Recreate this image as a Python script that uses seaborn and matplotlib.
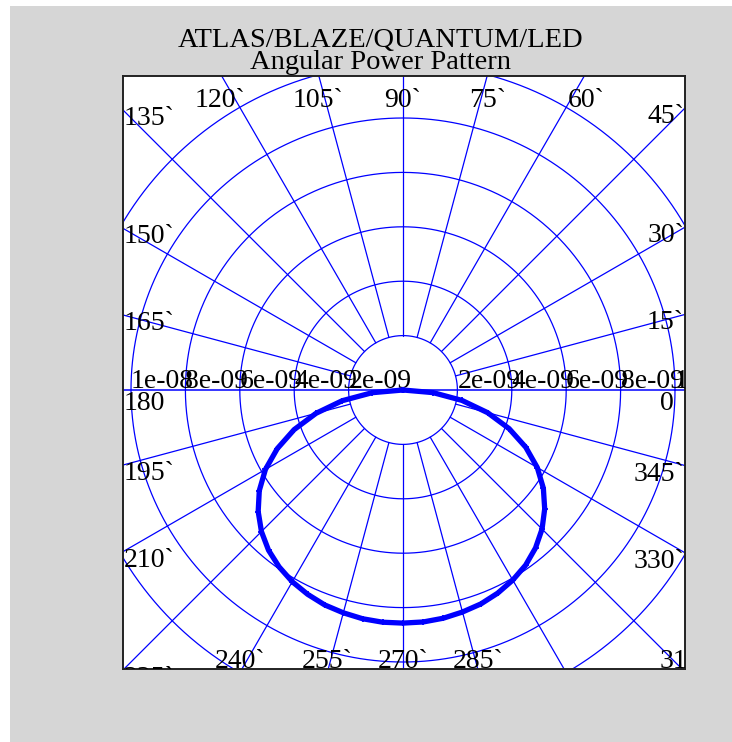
import numpy as np
import pandas as pd
import matplotlib
matplotlib.use("Agg")
import matplotlib.pyplot as plt
from matplotlib.patches import Rectangle
import seaborn as sns

# ---- data -------------------------------------------------------------
angle_deg = [180, 185, 190, 195, 200, 205, 210, 215, 220, 225, 230, 235,
             240, 245, 250, 255, 260, 265, 270, 275, 280, 285, 290, 295,
             300, 305, 310, 315, 320, 325, 330, 335, 340, 345, 350, 355, 360]
power_w = [0.0, 1.14e-09, 2.27e-09, 3.31e-09, 4.26e-09, 5.10e-09, 5.84e-09,
           6.45e-09, 6.95e-09, 7.36e-09, 7.69e-09, 7.94e-09, 8.14e-09,
           8.29e-09, 8.41e-09, 8.48e-09, 8.54e-09, 8.57e-09, 8.57e-09,
           8.56e-09, 8.52e-09, 8.45e-09, 8.37e-09, 8.24e-09, 8.07e-09,
           7.86e-09, 7.58e-09, 7.23e-09, 6.80e-09, 6.30e-09, 5.70e-09,
           4.98e-09, 4.15e-09, 3.22e-09, 2.20e-09, 1.11e-09, 0.0]

ring_values = [2e-09, 4e-09, 6e-09, 8e-09, 1e-08, 1.2e-08]
ring_labels = ["2e-09", "4e-09", "6e-09", "8e-09", "1e-08"]
spoke_angles = list(range(0, 360, 15))
# angle labels printed around the frame (300 is not printed)
label_angles = [a for a in spoke_angles if a != 300]
title_lines = ["ATLAS/BLAZE/QUANTUM/LED", "Angular Power Pattern"]

# ---- style ------------------------------------------------------------
sns.set_style("white")
plt.rcParams["font.family"] = ["Liberation Serif", "DejaVu Serif"]
plt.rcParams["text.color"] = "black"
BLUE = "#0000ff"
FS = 20

W, H = 732, 742
fig = plt.figure(figsize=(W / 100, H / 100), dpi=100)
fig.patch.set_facecolor("white")
fig.add_artist(Rectangle((10 / W, 0), (W - 10) / W, (H - 6) / H,
                         transform=fig.transFigure, facecolor="#d6d6d6",
                         edgecolor="none", zorder=0))

# plot box in pixels
bx0, bx1, by_top, by_bot = 123, 685, 76, 669
cx, cy = 403, 390
PX = 1e-09 / 27.2          # data units per pixel

ax = fig.add_axes([bx0 / W, 1 - by_bot / H, (bx1 - bx0) / W, (by_bot - by_top) / H])
ax.set_facecolor("white")
xmin, xmax = -(cx - bx0) * PX, (bx1 - cx) * PX
ymin, ymax = -(by_bot - cy) * PX, (cy - by_top) * PX
ax.set_xlim(xmin, xmax)
ax.set_ylim(ymin, ymax)
ax.set_xticks([])
ax.set_yticks([])
for s in ax.spines.values():
    s.set_visible(True)
    s.set_color("#222222")
    s.set_linewidth(1.4)

# ---- polar grid -------------------------------------------------------
t = np.linspace(0, 2 * np.pi, 721)
for r in ring_values:
    ax.plot(r * np.cos(t), r * np.sin(t), color=BLUE, lw=0.9, zorder=2)

r_in, r_out = ring_values[0], 3e-08
for a in spoke_angles:
    th = np.deg2rad(a)
    if a in (0, 180):
        continue
    ax.plot([r_in * np.cos(th), r_out * np.cos(th)],
            [r_in * np.sin(th), r_out * np.sin(th)], color=BLUE, lw=0.9, zorder=2)
ax.axhline(0, color=BLUE, lw=1.1, zorder=2)

# ring value labels along the horizontal axis
for r, lab in zip(ring_values, ring_labels):
    for sgn in (1, -1):
        ax.text(sgn * r, 2 * PX, lab, ha="left", va="baseline", fontsize=FS,
                color="black", clip_on=True, zorder=4)

# angle labels where each spoke leaves the box
for a in label_angles:
    th = np.deg2rad(a)
    c, s = np.cos(th), np.sin(th)
    cand = []
    if c > 1e-9:
        cand.append((xmax / c, "right"))
    if c < -1e-9:
        cand.append((xmin / c, "left"))
    if s > 1e-9:
        cand.append((1.01 * ymax / s, "top"))
    if s < -1e-9:
        cand.append((1.01 * ymin / s, "bottom"))
    tt, edge = min(cand)
    hx, hy = tt * c, tt * s
    if a == 0:
        ax.text(xmax - 11 * PX, -1 * PX, "0", ha="right", va="top",
                fontsize=FS, clip_on=True, zorder=4)
        continue
    if a == 180:
        ax.text(xmin + 1 * PX, -1 * PX, "180", ha="left", va="top",
                fontsize=FS, clip_on=True, zorder=4)
        continue
    lab = f"{a}`"
    if edge == "right":
        ax.text(xmax - 1 * PX, hy + 4 * PX, lab, ha="right", va="top",
                fontsize=FS, clip_on=True, zorder=4)
    elif edge == "left":
        ax.text(xmin + 1 * PX, hy + 4 * PX, lab, ha="left", va="top",
                fontsize=FS, clip_on=True, zorder=4)
    elif edge == "top":
        ax.text(hx, ymax - 12 * PX, lab, ha="center", va="top",
                fontsize=FS, clip_on=True, zorder=4)
    else:
        ax.text(hx, ymin + 1 * PX, lab, ha="center", va="baseline",
                fontsize=FS, clip_on=True, zorder=4)

# ---- radiation pattern -----------------------------------------------
df = pd.DataFrame({"angle": angle_deg, "power": power_w})
rad = np.deg2rad(df["angle"].to_numpy())
df["x"] = df["power"] * np.cos(rad)
df["y"] = df["power"] * np.sin(rad)
sns.lineplot(data=df, x="x", y="y", sort=False, estimator=None, ax=ax,
             color=BLUE, lw=3.8, marker="+", markersize=5, mew=1.3,
             markeredgecolor=BLUE, zorder=5)
ax.set_xlabel("")
ax.set_ylabel("")
ax.set_xlim(xmin, xmax)
ax.set_ylim(ymin, ymax)

# ---- title ------------------------------------------------------------
fig.text(381 / W, 1 - 47 / H, title_lines[0], ha="center", va="baseline",
         fontsize=20.5)
fig.text(381 / W, 1 - 69 / H, title_lines[1], ha="center", va="baseline",
         fontsize=20.5)

fig.savefig("out.png", dpi=100, facecolor=fig.get_facecolor())
